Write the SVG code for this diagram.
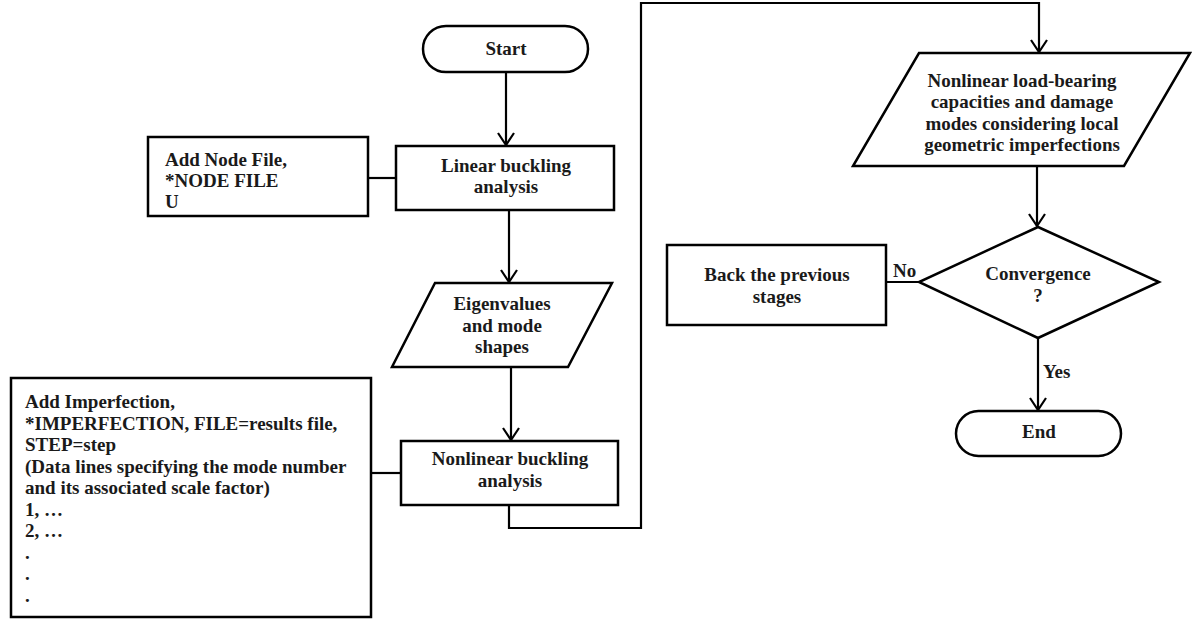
<svg xmlns="http://www.w3.org/2000/svg" width="1198" height="619" viewBox="0 0 1198 619">
<style>
.shape{fill:#fff;stroke:#000;stroke-width:2.5}
.conn{fill:none;stroke:#000;stroke-width:2.2}
text{font-family:"Liberation Serif","Times New Roman",serif;font-weight:bold;font-size:19px;fill:#1a1a1a}
.c{text-anchor:middle}
</style>
<defs>
<marker id="arr" viewBox="-14 -10 16 20" refX="0" refY="0" markerWidth="16" markerHeight="20" markerUnits="userSpaceOnUse" orient="auto">
<path d="M-12,-8 L0,0 L-12,8" fill="none" stroke="#000" stroke-width="2.2"/>
</marker>
</defs>
<rect width="1198" height="619" fill="#fff"/>
<g id="connectors">
<path class="conn" d="M506,72 V145" marker-end="url(#arr)"/>
<path class="conn" d="M509,210 V282" marker-end="url(#arr)"/>
<path class="conn" d="M511,367 V440" marker-end="url(#arr)"/>
<path class="conn" d="M368,178 H396"/>
<path class="conn" d="M371,473 H401"/>
<path class="conn" d="M509,505 V528 H641 V3 H1039 V52" marker-end="url(#arr)"/>
<path class="conn" d="M1037,166 V226" marker-end="url(#arr)"/>
<path class="conn" d="M919,282 H886"/>
<path class="conn" d="M1038,338 V410" marker-end="url(#arr)"/>
<text x="893" y="277">No</text>
<text x="1043" y="378">Yes</text>
</g>
<g id="start">
<rect class="shape" x="423" y="26" width="165" height="46" rx="23"/>
<text class="c" x="506" y="55">Start</text>
</g>
<g id="addnode">
<rect class="shape" x="148" y="137" width="220" height="79"/>
<text x="165" y="166">Add Node File,</text>
<text x="165" y="187">*NODE FILE</text>
<text x="165" y="208">U</text>
</g>
<g id="linear">
<rect class="shape" x="396" y="146" width="218" height="64"/>
<text class="c" x="506" y="172">Linear buckling</text>
<text class="c" x="506" y="193">analysis</text>
</g>
<g id="eigen">
<polygon class="shape" points="435,283 612,283 568,367 392,367"/>
<text class="c" x="502" y="310">Eigenvalues</text>
<text class="c" x="502" y="332">and mode</text>
<text class="c" x="502" y="353">shapes</text>
</g>
<g id="imperfection">
<rect class="shape" x="11" y="378" width="360" height="239"/>
<text x="25" y="408">Add Imperfection,</text>
<text x="25" y="429.5">*IMPERFECTION, FILE=results file,</text>
<text x="25" y="451">STEP=step</text>
<text x="25" y="472.5">(Data lines specifying the mode number</text>
<text x="25" y="494">and its associated scale factor)</text>
<text x="25" y="515.5">1, …</text>
<text x="25" y="537">2, …</text>
<text x="25" y="558.5">.</text>
<text x="25" y="580">.</text>
<text x="25" y="601.5">.</text>
</g>
<g id="nonlinear">
<rect class="shape" x="401" y="441" width="217" height="64"/>
<text class="c" x="510" y="465">Nonlinear buckling</text>
<text class="c" x="510" y="487">analysis</text>
</g>
<g id="capacities">
<polygon class="shape" points="919,53 1190,53 1124,166 853,166"/>
<text class="c" x="1022" y="86.5">Nonlinear load-bearing</text>
<text class="c" x="1022" y="108">capacities and damage</text>
<text class="c" x="1022" y="129.5">modes considering local</text>
<text class="c" x="1022" y="151">geometric imperfections</text>
</g>
<g id="convergence">
<polygon class="shape" points="1038,227 1159,282 1038,338 919,282"/>
<text class="c" x="1038" y="280">Convergence</text>
<text class="c" x="1038" y="302">?</text>
</g>
<g id="back">
<rect class="shape" x="667" y="245" width="219" height="80"/>
<text class="c" x="777" y="281">Back the previous</text>
<text class="c" x="777" y="303">stages</text>
</g>
<g id="end">
<rect class="shape" x="956" y="411" width="165" height="45" rx="22.5"/>
<text class="c" x="1039" y="438">End</text>
</g>
</svg>
